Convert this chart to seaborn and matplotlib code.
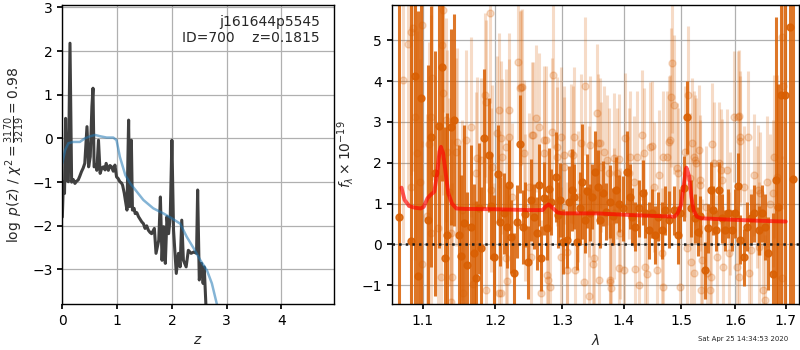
import numpy as np
import pandas as pd
import matplotlib
matplotlib.use("Agg")
import matplotlib.pyplot as plt
import matplotlib.ticker as mticker
import seaborn as sns

# ---- left panel: log p(z) and scaled chi2 curve ----
pz_z = [0.00, 0.02, 0.04, 0.06, 0.08, 0.11, 0.14, 0.17, 0.20, 0.23,
        0.26, 0.29, 0.32, 0.35, 0.38, 0.41, 0.45, 0.48, 0.51, 0.54,
        0.56, 0.58, 0.61, 0.63, 0.66, 0.69, 0.72, 0.75, 0.78, 0.80,
        0.84, 0.87, 0.90, 0.93, 0.96, 0.99, 1.02, 1.05, 1.08, 1.10,
        1.13, 1.15, 1.18, 1.21, 1.23, 1.26, 1.28, 1.31, 1.33, 1.36,
        1.39, 1.42, 1.45, 1.48, 1.51, 1.54, 1.57, 1.60, 1.63, 1.68,
        1.71, 1.76, 1.79, 1.82, 1.85, 1.88, 1.91, 1.94, 1.97, 2.00,
        2.03, 2.08, 2.12, 2.15, 2.18, 2.21, 2.26, 2.30, 2.35, 2.40,
        2.45, 2.47, 2.50, 2.54, 2.57, 2.59, 2.62, 2.70]
pz_logp = [-1.80, -1.00, -1.26, 0.46, -0.95, -0.99, 2.18, -1.00, -0.94, -1.03,
           -0.98, -0.95, -0.86, -0.76, -0.68, -0.57, 0.27, -0.65, -0.42, 0.73,
           1.15, -0.65, -0.60, -0.73, -0.04, -0.80, -0.68, -0.65, -0.72, -0.57,
           -0.73, -0.62, -0.65, -0.75, -0.61, -0.88, -0.92, -0.99, -1.02, -1.07,
           -1.25, -1.41, -1.64, 0.42, -1.56, -0.04, -1.64, -1.60, -1.72, -1.70,
           -1.79, -1.85, -1.91, -1.95, -2.06, -2.00, -2.10, -2.15, -2.18, -2.06,
           -2.63, -2.33, -1.34, -2.79, -2.02, -2.86, -1.79, -2.18, -1.79, -0.04,
           -2.10, -3.09, -2.63, -2.94, -1.87, -2.79, -2.94, -2.56, -2.63, -2.60,
           -2.63, -1.18, -3.24, -2.86, -3.32, -2.94, -3.79, -4.50]

chi_z = [0.00, 0.05, 0.11, 0.20, 0.32, 0.41, 0.51, 0.60, 0.69, 0.81, 0.93, 0.99, 1.05, 1.15,
         1.24, 1.36, 1.48, 1.66, 1.85, 2.00, 2.15, 2.27, 2.40, 2.52, 2.64, 2.73, 2.82, 2.90]
chi_val = [-0.57, -0.27, -0.11, -0.08, -0.08, 0.00, 0.05, 0.08, 0.05, 0.02, 0.02, -0.04,
           -0.42, -0.84, -1.03, -1.22, -1.41, -1.60, -1.72, -1.83, -1.95, -2.25, -2.52,
           -2.79, -3.02, -3.32, -3.79, -4.30]

# ---- right panel: spectrum ----
dark_wave = [1.069, 1.084, 1.090, 1.093, 1.097, 1.107, 1.111, 1.116, 1.122, 1.126,
             1.130, 1.132, 1.137, 1.142, 1.148, 1.151, 1.156, 1.160, 1.165, 1.170,
             1.172, 1.176, 1.180, 1.184, 1.191, 1.193, 1.198, 1.203, 1.207, 1.212,
             1.216, 1.219, 1.223, 1.227, 1.231, 1.236, 1.240, 1.244, 1.248, 1.253,
             1.257, 1.261, 1.264, 1.267, 1.272, 1.276, 1.280, 1.283, 1.290, 1.293,
             1.297, 1.302, 1.307, 1.310, 1.316, 1.319, 1.323, 1.328, 1.332, 1.336,
             1.339, 1.344, 1.347, 1.353, 1.357, 1.361, 1.365, 1.371, 1.376, 1.382,
             1.386, 1.391, 1.399, 1.405, 1.410, 1.414, 1.419, 1.425, 1.432, 1.436,
             1.442, 1.448, 1.454, 1.459, 1.465, 1.471, 1.477, 1.486, 1.493, 1.498,
             1.504, 1.510, 1.518, 1.525, 1.530, 1.534, 1.543, 1.549, 1.555, 1.558,
             1.564, 1.569, 1.574, 1.581, 1.587, 1.594, 1.599, 1.605, 1.610, 1.616,
             1.623, 1.631, 1.637, 1.646, 1.653, 1.658, 1.665, 1.674, 1.680, 1.684,
             1.691, 1.698, 1.709, 1.715]
dark_flux = [0.66, 0.09, 4.13, -0.78, 3.58, 0.60, 2.64, 1.74, 2.91, 4.35,
             -0.33, 0.23, 2.88, 3.05, 0.23, -0.29, 0.53, -0.51, 0.43, -0.22,
             -0.83, 0.88, -0.10, 2.60, 2.19, 0.94, -0.30, 1.72, 0.56, 0.76,
             0.43, 1.45, 0.19, -0.71, 0.56, 2.45, 0.43, 0.74, -0.44, 1.09,
             0.68, 0.27, 1.45, -0.34, 1.13, 0.41, 1.35, 1.04, 1.66, 0.72,
             1.09, 0.07, 0.12, 1.03, 1.33, 1.17, 0.07, 0.88, 1.54, 0.60,
             1.31, 0.78, 1.17, 1.78, 1.41, 0.60, 1.25, 0.80, 1.05, 0.69,
             1.33, 1.00, 0.88, 1.78, 1.17, 0.68, 0.43, 0.88, 1.27, 0.76,
             0.35, 0.76, 0.23, 0.68, 0.35, 0.84, 0.60, 0.84, 0.23, 0.76,
             1.37, 3.11, 0.88, 0.64, 0.31, 0.69, -0.63, 0.39, 1.33, 0.84,
             0.35, 1.33, 0.64, 0.35, 0.76, 0.35, 0.76, 1.43, 0.11, -0.32,
             0.43, 0.64, 0.76, 0.35, 0.76, 0.43, -0.22, -0.73, 1.58, 0.92,
             3.66, 3.66, 5.33, 1.60]
dark_err = [7.0, 6.5, 6.0, 6.5, 5.5, 3.8, 3.2, 3.0, 3.0, 2.8,
            3.2, 3.0, 2.4, 2.6, 2.2, 2.0, 2.4, 1.8, 2.0, 1.7,
            1.9, 1.6, 1.5, 1.7, 1.4, 1.3, 1.5, 1.2, 1.1, 1.0,
            1.0, 1.1, 0.9, 1.0, 0.9, 1.2, 0.9, 0.8, 0.9, 1.0,
            0.8, 0.9, 1.0, 0.8, 0.9, 0.8, 1.0, 0.8, 1.1, 0.8,
            0.9, 0.8, 0.7, 0.9, 1.0, 0.8, 0.7, 0.9, 1.4, 0.8,
            0.9, 0.7, 0.8, 1.0, 0.9, 0.7, 0.8, 0.7, 0.9, 0.7,
            0.8, 0.7, 0.8, 1.0, 0.8, 0.7, 0.6, 0.7, 0.8, 0.6,
            0.7, 0.6, 0.7, 0.6, 0.7, 0.6, 0.7, 0.6, 0.7, 0.6,
            0.8, 0.9, 0.7, 0.6, 0.6, 0.5, 0.7, 0.6, 0.7, 0.6,
            0.5, 0.7, 0.6, 0.5, 0.6, 0.5, 0.6, 0.8, 0.6, 0.7,
            0.6, 0.6, 0.7, 0.6, 0.7, 0.8, 0.9, 1.5, 4.0, 3.0,
            6.0, 7.0, 8.0, 8.0]

light_wave = [1.0745, 1.0805, 1.0838, 1.0845, 1.0874, 1.0890, 1.0926, 1.0960, 1.0985, 1.0992,
              1.1060, 1.1080, 1.1102, 1.1110, 1.1125, 1.1206, 1.1237, 1.1250, 1.1265, 1.1273,
              1.1304, 1.1320, 1.1349, 1.1372, 1.1380, 1.1395, 1.1440, 1.1454, 1.1532, 1.1540,
              1.1578, 1.1648, 1.1680, 1.1718, 1.1742, 1.1788, 1.1845, 1.1859, 1.1870, 1.1916,
              1.1930, 1.1954, 1.2050, 1.2074, 1.2084, 1.2147, 1.2195, 1.2245, 1.2327, 1.2367,
              1.2416, 1.2491, 1.2541, 1.2591, 1.2641, 1.2717, 1.2769, 1.2819, 1.2861, 1.2922,
              1.2974, 1.3026, 1.3078, 1.3141, 1.3193, 1.3246, 1.3299, 1.3368, 1.3421, 1.3492,
              1.3556, 1.3621, 1.3664, 1.3719, 1.3774, 1.3829, 1.3885, 1.3940, 1.3996, 1.4024,
              1.4080, 1.4164, 1.4222, 1.4307, 1.4364, 1.4450, 1.4520, 1.4595, 1.4654, 1.4742,
              1.4800, 1.4830, 1.4859, 1.4919, 1.4979, 1.5069, 1.5118, 1.5159, 1.5220, 1.5269,
              1.5342, 1.5373, 1.5453, 1.5527, 1.5589, 1.5652, 1.5746, 1.5840, 1.5903, 1.5967,
              1.6044, 1.6083, 1.6160, 1.6238, 1.6305, 1.6367, 1.6420, 1.6485, 1.6551, 1.6580,
              1.6617, 1.6683, 1.6749, 1.6816, 1.6917, 1.6951]
light_flux = [4.03, 4.91, 1.41, 5.21, 5.31, 3.13, 2.23, 1.54, -0.47, 5.38,
              0.69, 2.46, 3.13, 0.27, 4.07, 0.39, -0.79, 4.89, 5.74, 3.70,
              3.05, 2.27, 1.29, 0.27, -1.41, -0.79, 2.27, 2.52, 0.84, -1.20,
              2.56, 2.88, -0.96, 1.74, 2.11, 2.07, 3.66, 3.50, -1.12, 5.66,
              1.33, 1.90, 3.29, 2.60, -1.20, 2.39, 3.29, 1.17, 4.46, 3.85,
              2.23, 1.41, 2.68, 3.09, 2.88, 2.56, -0.74, -1.04, 4.15, 2.15,
              2.64, 1.90, -0.18, 2.23, 2.64, 1.17, 2.48, 3.88, 1.29, -0.47,
              3.21, 1.90, 2.27, 2.07, -0.87, 0.76, 1.74, 0.27, -0.63, 2.60,
              1.74, 1.54, 2.15, 2.68, -0.55, 2.39, 1.41, 1.70, -0.22, 2.15,
              2.56, 4.44, 3.42, 1.86, -1.04, 2.27, 3.66, 1.62, 2.15, 1.99,
              1.58, -0.38, 0.92, -1.12, 1.99, -0.30, 1.58, 1.82, 0.76, 3.13,
              3.13, 2.64, 1.41, 2.64, -0.14, 1.70, 0.92, 1.25, -1.12, -1.36,
              1.54, 1.00, 1.25, 1.66, 5.09, 3.87]
light_err = [4.0, 4.0, 4.0, 3.5, 3.5, 3.5, 3.0, 3.0, 3.0, 3.0,
             2.5, 2.5, 2.5, 2.5, 2.5, 2.5, 2.5, 2.5, 2.5, 2.5,
             2.5, 2.5, 2.3, 2.3, 2.0, 2.3, 2.3, 2.3, 2.2, 2.0,
             2.2, 2.2, 2.0, 2.0, 2.0, 2.0, 2.0, 2.0, 2.0, 2.2,
             2.0, 2.0, 1.9, 1.9, 1.9, 1.9, 1.9, 1.8, 1.9, 1.9,
             1.8, 1.8, 1.8, 1.8, 1.8, 1.8, 1.7, 1.7, 1.8, 1.7,
             1.7, 1.7, 1.7, 1.7, 1.7, 1.6, 1.7, 1.7, 1.6, 1.6,
             1.7, 1.6, 1.6, 1.6, 1.6, 1.6, 1.6, 1.6, 1.6, 1.6,
             1.6, 1.6, 1.6, 1.6, 1.6, 1.6, 1.6, 1.6, 1.6, 1.6,
             1.6, 1.7, 1.7, 1.6, 1.6, 1.6, 1.7, 1.6, 1.6, 1.6,
             1.6, 1.5, 1.5, 1.5, 1.5, 1.5, 1.5, 1.5, 1.5, 1.6,
             1.6, 1.6, 1.5, 1.6, 1.5, 1.5, 1.5, 1.5, 1.6, 1.6,
             1.6, 1.7, 1.8, 2.5, 3.0, 3.0]

# second faint exposure
light2_wave = [1.1977, 1.2025, 1.2056, 1.2089, 1.2147, 1.2160, 1.2195, 1.2357, 1.2391, 1.2430,
               1.2516, 1.2556, 1.2667, 1.2717, 1.2743, 1.2780, 1.2845, 1.2922, 1.2974, 1.3026,
               1.3078, 1.3172, 1.3209, 1.3341, 1.3421, 1.3448, 1.3502, 1.3566, 1.3583, 1.3610,
               1.3747, 1.3760, 1.3790, 1.3829, 1.3912, 1.3925, 1.4095, 1.4193, 1.4250, 1.4336,
               1.4395, 1.4481, 1.4569, 1.4665, 1.4680, 1.4770, 1.4818, 1.4930, 1.5100, 1.5170,
               1.5190, 1.5230, 1.5250, 1.5311, 1.5330, 1.5355, 1.5466, 1.5540, 1.5558, 1.5683,
               1.5720, 1.5760, 1.5872, 1.6033, 1.6064, 1.6070, 1.6095, 1.6257, 1.6452, 1.6470,
               1.6770, 1.6917]
light2_flux = [-0.30, 2.72, -1.20, 2.15, -0.34, -0.90, 2.64, 3.82, 3.86, 0.90,
               -0.30, 2.68, -1.20, 2.23, 2.56, -0.87, 2.76, 2.39, -0.30, 2.19,
               -0.63, 2.19, -0.63, -0.92, -1.27, 2.43, -0.34, 2.48, -0.87, 2.48,
               1.74, -0.92, -1.08, 2.11, 2.08, -0.59, 2.15, -0.61, -1.00, 2.23,
               -0.73, 2.41, -0.63, 2.15, -1.04, 2.52, 3.60, 1.74, -0.10, -0.42,
               2.48, -0.71, 2.07, 2.31, 1.45, -1.12, -0.71, -0.79, 2.46, 2.00,
               1.82, -0.55, -0.22, -0.55, 3.15, -0.79, 2.53, -0.71, 1.33, -0.06,
               2.15, -0.83]
light2_err = [1.8, 1.9, 1.9, 1.9, 1.8, 1.8, 1.9, 1.9, 1.9, 1.8,
              1.8, 1.8, 1.8, 1.8, 1.8, 1.8, 1.8, 1.7, 1.7, 1.7,
              1.7, 1.7, 1.7, 1.7, 1.7, 1.7, 1.7, 1.7, 1.6, 1.6,
              1.6, 1.6, 1.6, 1.6, 1.6, 1.6, 1.6, 1.6, 1.6, 1.6,
              1.6, 1.6, 1.6, 1.6, 1.6, 1.6, 1.7, 1.6, 1.6, 1.6,
              1.6, 1.6, 1.6, 1.6, 1.6, 1.6, 1.5, 1.5, 1.5, 1.5,
              1.5, 1.5, 1.5, 1.5, 1.6, 1.5, 1.6, 1.5, 1.6, 1.6,
              2.0, 3.0]

model_wave = [1.072, 1.076, 1.082, 1.089, 1.097, 1.101, 1.106, 1.110, 1.115, 1.119, 1.122,
              1.124, 1.127, 1.131, 1.134, 1.139, 1.145, 1.155, 1.203, 1.252, 1.270, 1.274,
              1.279, 1.284, 1.293, 1.302, 1.356, 1.410, 1.467, 1.488, 1.493, 1.499, 1.503,
              1.507, 1.509, 1.514, 1.518, 1.522, 1.528, 1.536, 1.583, 1.644, 1.700]
model_flux = [1.39, 1.09, 0.94, 0.90, 0.88, 0.92, 1.13, 1.21, 1.29, 1.74, 2.27,
              2.39, 2.23, 1.66, 1.25, 1.00, 0.88, 0.87, 0.86, 0.84, 0.84, 0.92,
              0.98, 0.91, 0.78, 0.76, 0.76, 0.72, 0.69, 0.68, 0.76, 0.96, 1.33,
              1.74, 1.88, 1.66, 1.17, 0.84, 0.68, 0.64, 0.61, 0.58, 0.56]

sns.set_theme(style="ticks")
plt.rcParams.update({
    "font.family": ["DejaVu Sans"],
    "font.size": 10,
    "axes.labelsize": 10,
    "xtick.labelsize": 10,
    "ytick.labelsize": 10,
    "axes.edgecolor": "black",
    "axes.linewidth": 1.0,
    "xtick.color": "black",
    "ytick.color": "black",
    "xtick.major.size": 3.5,
    "ytick.major.size": 3.5,
})

fig = plt.figure(figsize=(8, 3.5), dpi=100)
ax1 = fig.add_axes([0.0779, 0.1314, 0.339, 0.855])
ax2 = fig.add_axes([0.4896, 0.1314, 0.5090, 0.855])

pz_df = pd.DataFrame({"z": pz_z, "logp": pz_logp})
chi_df = pd.DataFrame({"z": chi_z, "val": chi_val})
sns.lineplot(data=pz_df, x="z", y="logp", ax=ax1, color="0.25", lw=2.2,
             sort=False, estimator=None)
sns.lineplot(data=chi_df, x="z", y="val", ax=ax1, color="#1f77b4", alpha=0.55, lw=1.8,
             sort=False, estimator=None)
ax1.set_xlim(0, 4.95)
ax1.set_ylim(-3.79, 3.06)
ax1.set_xticks([0, 1, 2, 3, 4])
ax1.set_yticks([-3, -2, -1, 0, 1, 2, 3])
ax1.grid(True, color="#b0b0b0", lw=0.9)
ax1.set_xlabel(r"$z$")
ax1.set_ylabel(r"$\log\ p(z)$ / $\chi^2=\frac{3170}{3219}=0.98$")
ax1.text(0.95, 0.965, "j161644p5545\nID=700    z=0.1815", transform=ax1.transAxes,
         ha="right", va="top", fontsize=10, linespacing=1.2)

# spectrum
orange = "#d95f02"
ax2.errorbar(light_wave, light_flux, yerr=light_err, fmt="o", color=orange, ms=5,
             elinewidth=2.2, capsize=0, alpha=0.22, zorder=1)
ax2.errorbar(light2_wave, light2_flux, yerr=light2_err, fmt="o", color=orange, ms=5,
             elinewidth=2.2, capsize=0, alpha=0.22, zorder=1)
ax2.errorbar(dark_wave, dark_flux, yerr=dark_err, fmt="o", color=orange, ms=5,
             elinewidth=2.2, capsize=0, alpha=0.85, zorder=2)
model_df = pd.DataFrame({"wave": model_wave, "flux": model_flux})
sns.lineplot(data=model_df, x="wave", y="flux", ax=ax2, color="red", alpha=0.65, lw=2.8,
             sort=False, estimator=None, zorder=3)
ax2.axhline(0, color="k", ls=":", lw=1.8, zorder=4)
ax2.set_xscale("log")
ax2.set_xlim(1.0595, 1.727)
ax2.set_ylim(-1.46, 5.87)
ax2.xaxis.set_major_locator(mticker.FixedLocator([1.1, 1.2, 1.3, 1.4, 1.5, 1.6, 1.7]))
ax2.xaxis.set_major_formatter(mticker.FormatStrFormatter("%.1f"))
ax2.xaxis.set_minor_locator(mticker.NullLocator())
ax2.set_yticks([-1, 0, 1, 2, 3, 4, 5])
ax2.grid(True, color="#b0b0b0", lw=0.9)
ax2.set_axisbelow(True)
ax2.set_xlabel(r"$\lambda$")
ax2.set_ylabel(r"$f_\lambda\times10^{-19}$")

fig.text(0.985, 0.022, "Sat Apr 25 14:34:53 2020", ha="right", va="bottom", fontsize=5)

fig.savefig("out.png", dpi=100)
